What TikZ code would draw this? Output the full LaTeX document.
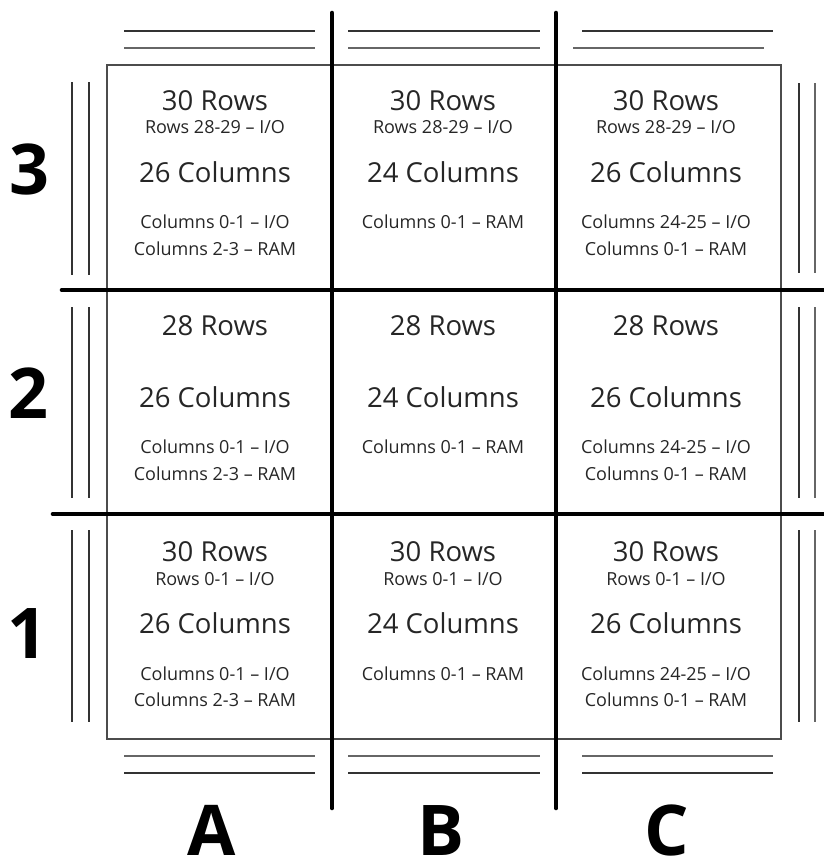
\documentclass[tikz,border=0pt]{standalone}
\usepackage{fontspec}
\setmainfont{Open Sans}
\usetikzlibrary{positioning}

\begin{document}
\begin{tikzpicture}[x=1pt, y=-1pt,
		big/.style={anchor=base, inner sep=0pt, font=\fontsize{27.5}{30}\selectfont, text=black!85},
		small/.style={anchor=base, inner sep=0pt, font=\fontsize{18}{20}\selectfont, text=black!85},
		letter/.style={anchor=base, inner sep=0pt, font=\fontsize{70}{72}\selectfont\bfseries},
		rule/.style={line width=1.2pt, black!80},
		divider/.style={line width=4.6pt, line cap=round}]
	\useasboundingbox (0,0) rectangle (823,863);

	\draw[line width=1.4pt, black!70] (107,65) rectangle (781,739);

	\draw[rule] (124,31) -- (315,31);
	\draw[rule, black!60] (124,48) -- (315,48);
	\draw[rule] (348,31) -- (540,31);
	\draw[rule, black!60] (348,48) -- (540,48);
	\draw[rule] (582,31) -- (773,31);
	\draw[rule, black!60] (573,48) -- (764,48);
	\draw[rule, black!60] (124,756) -- (315,756);
	\draw[rule] (124,773) -- (315,773);
	\draw[rule, black!60] (348,756) -- (540,756);
	\draw[rule] (348,773) -- (540,773);
	\draw[rule, black!60] (582,756) -- (773,756);
	\draw[rule] (582,773) -- (773,773);

	\draw[rule] (72,82) -- (72,275);
	\draw[rule] (89,82) -- (89,275);
	\draw[rule] (72,307) -- (72,498);
	\draw[rule] (89,307) -- (89,498);
	\draw[rule] (72,530) -- (72,722);
	\draw[rule] (89,530) -- (89,722);
	\draw[rule] (799,83) -- (799,273);
	\draw[rule, black!60] (815,83) -- (815,273);
	\draw[rule] (799,307) -- (799,498);
	\draw[rule, black!60] (815,307) -- (815,498);
	\draw[rule] (799,530) -- (799,722);
	\draw[rule, black!60] (815,530) -- (815,722);

	\coordinate (ab top) at (332,13);
	\coordinate (ab bottom) at (332,808);
	\coordinate (bc top) at (556,13);
	\coordinate (bc bottom) at (556,808);
	\coordinate (r32 left) at (62,290);
	\coordinate (r32 right) at (823,290);
	\coordinate (r21 left) at (53,514);
	\coordinate (r21 right) at (823,514);
	\draw[divider] (ab top) -- (ab bottom);
	\draw[divider] (bc top) -- (bc bottom);
	\draw[divider] (r32 left) -- (r32 right);
	\draw[divider] (r21 left) -- (r21 right);

	\node[big] (a3rows) at (215,110) {30 Rows};
	\node[small] (a3rio) at (215,133) {Rows 28-29 – I/O};
	\node[big] (a3cols) at (215,182) {26 Columns};
	\node[small] (a3cio) at (215,228) {Columns 0-1 – I/O};
	\node[small] (a3ram) at (215,255) {Columns 2-3 – RAM};

	\node[big] (b3rows) at (443,110) {30 Rows};
	\node[small] (b3rio) at (443,133) {Rows 28-29 – I/O};
	\node[big] (b3cols) at (443,182) {24 Columns};
	\node[small] (b3ram) at (443,228) {Columns 0-1 – RAM};

	\node[big] (c3rows) at (666,110) {30 Rows};
	\node[small] (c3rio) at (666,133) {Rows 28-29 – I/O};
	\node[big] (c3cols) at (666,182) {26 Columns};
	\node[small] (c3cio) at (666,228) {Columns 24-25 – I/O};
	\node[small] (c3ram) at (666,255) {Columns 0-1 – RAM};

	\node[big] (a2rows) at (215,335) {28 Rows};
	\node[big] (a2cols) at (215,407) {26 Columns};
	\node[small] (a2cio) at (215,453) {Columns 0-1 – I/O};
	\node[small] (a2ram) at (215,480) {Columns 2-3 – RAM};

	\node[big] (b2rows) at (443,335) {28 Rows};
	\node[big] (b2cols) at (443,407) {24 Columns};
	\node[small] (b2ram) at (443,453) {Columns 0-1 – RAM};

	\node[big] (c2rows) at (666,335) {28 Rows};
	\node[big] (c2cols) at (666,407) {26 Columns};
	\node[small] (c2cio) at (666,453) {Columns 24-25 – I/O};
	\node[small] (c2ram) at (666,480) {Columns 0-1 – RAM};

	\node[big] (a1rows) at (215,561) {30 Rows};
	\node[small] (a1rio) at (215,585) {Rows 0-1 – I/O};
	\node[big] (a1cols) at (215,633) {26 Columns};
	\node[small] (a1cio) at (215,680) {Columns 0-1 – I/O};
	\node[small] (a1ram) at (215,706) {Columns 2-3 – RAM};

	\node[big] (b1rows) at (443,561) {30 Rows};
	\node[small] (b1rio) at (443,585) {Rows 0-1 – I/O};
	\node[big] (b1cols) at (443,633) {24 Columns};
	\node[small] (b1ram) at (443,680) {Columns 0-1 – RAM};

	\node[big] (c1rows) at (666,561) {30 Rows};
	\node[small] (c1rio) at (666,585) {Rows 0-1 – I/O};
	\node[big] (c1cols) at (666,633) {26 Columns};
	\node[small] (c1cio) at (666,680) {Columns 24-25 – I/O};
	\node[small] (c1ram) at (666,706) {Columns 0-1 – RAM};

	\node[letter] (row3) at (29,194) {3};
	\node[letter] (row2) at (28,418) {2};
	\node[letter] (row1) at (27,658) {1};
	\node[letter] (colA) at (212,855) {A};
	\node[letter] (colB) at (441,855) {B};
	\node[letter] (colC) at (667,855) {C};
\end{tikzpicture}
\end{document}
